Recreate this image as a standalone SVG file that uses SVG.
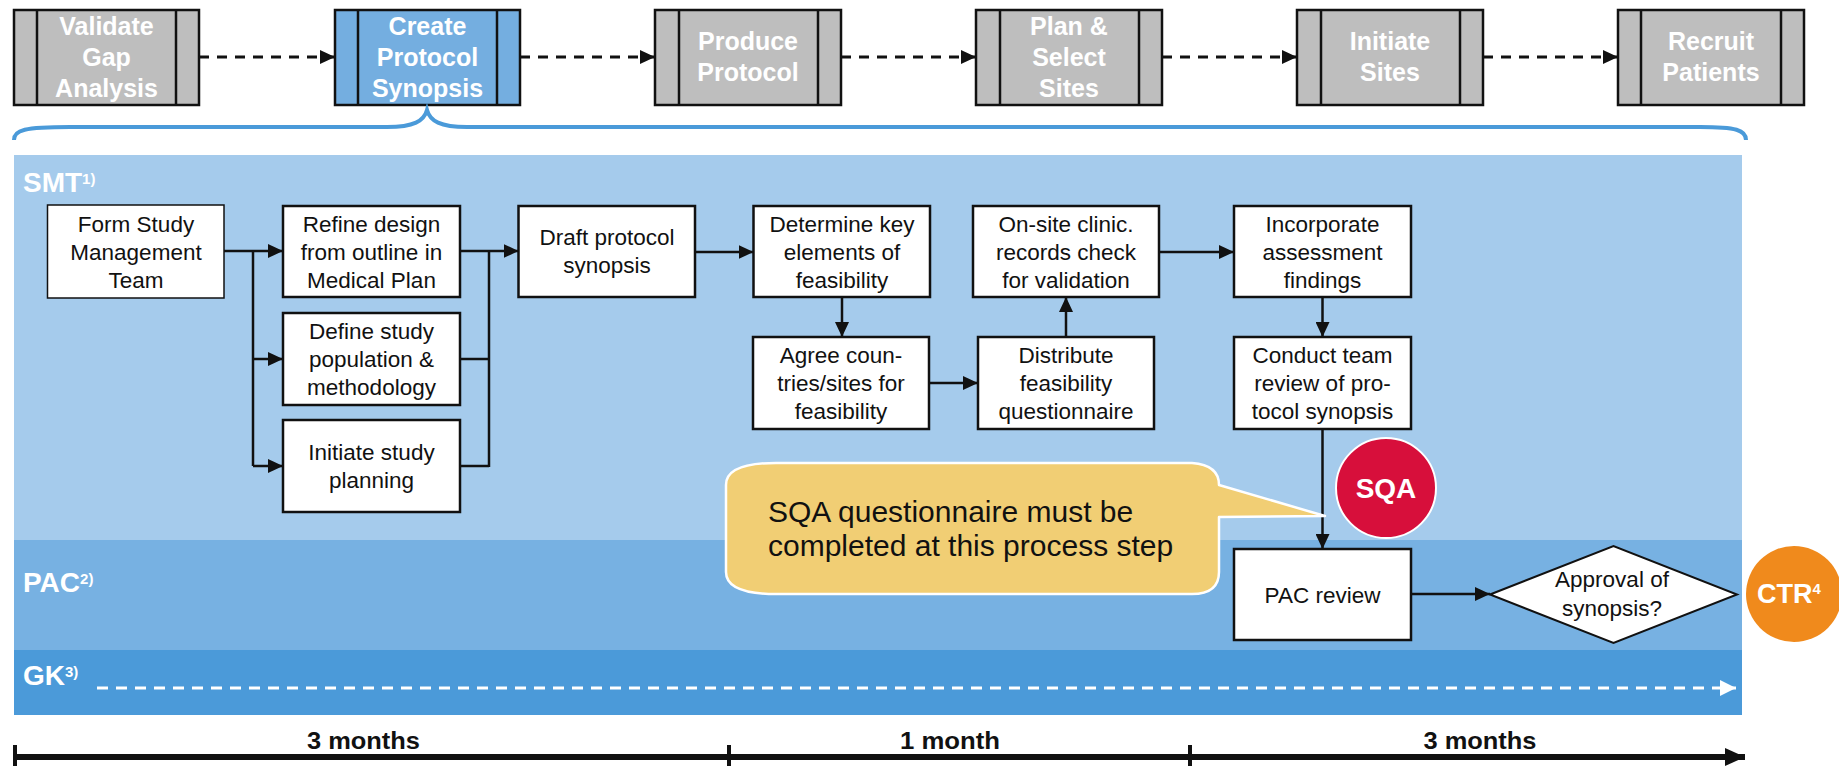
<svg xmlns="http://www.w3.org/2000/svg" width="1839" height="766" viewBox="0 0 1839 766">
  <defs>
    <style>
      .phase { fill: #bebebe; stroke: #111; stroke-width: 2.5; }
      .phase.active { fill: #74aee0; }
      .bar { stroke: #111; stroke-width: 2.5; }
      .phase-t { font-family: "Liberation Sans", Arial, sans-serif; font-weight: bold; font-size: 25px; fill: #ffffff; text-anchor: middle; }
      .box { fill: #ffffff; stroke: #111; stroke-width: 2.5; }
      .box.thin { stroke-width: 1.5; }
      .t { font-family: "Liberation Sans", Arial, sans-serif; font-size: 22.5px; fill: #111; text-anchor: middle; }
      .lane-t { font-family: "Liberation Sans", Arial, sans-serif; font-weight: bold; font-size: 28px; fill: #ffffff; }
      .sup { font-family: "Liberation Sans", Arial, sans-serif; font-weight: bold; font-size: 15px; fill: #ffffff; }
      .link { fill: none; stroke: #111; stroke-width: 2.5; }
      .dash { fill: none; stroke: #111; stroke-width: 3; stroke-dasharray: 10 8; }
      .gk-dash { fill: none; stroke: #ffffff; stroke-width: 3; stroke-dasharray: 11 8; }
      .badge-t { font-family: "Liberation Sans", Arial, sans-serif; font-weight: bold; fill: #ffffff; text-anchor: middle; }
      .call-t { font-family: "Liberation Sans", Arial, sans-serif; font-size: 30px; fill: #111; }
      .time-t { font-family: "Liberation Sans", Arial, sans-serif; font-weight: bold; font-size: 24px; fill: #111; text-anchor: middle; }
    </style>
    <marker id="arrow" markerUnits="userSpaceOnUse" markerWidth="15" markerHeight="14" refX="15" refY="7" orient="auto">
      <path d="M0,0 L15,7 L0,14 z" fill="#111"/>
    </marker>
    <marker id="arrow-white" markerUnits="userSpaceOnUse" markerWidth="16" markerHeight="16" refX="16" refY="8" orient="auto">
      <path d="M0,0 L16,8 L0,16 z" fill="#ffffff"/>
    </marker>
    <marker id="arrow-time" markerUnits="userSpaceOnUse" markerWidth="20" markerHeight="18" refX="20" refY="9" orient="auto">
      <path d="M0,0 L20,9 L0,18 z" fill="#111"/>
    </marker>
  </defs>

  <rect x="0" y="0" width="1839" height="766" fill="#ffffff"/>

  <!-- swimlanes -->
  <g id="lanes">
    <rect x="14" y="155" width="1728" height="385" fill="#a5cbec"/>
    <rect x="14" y="540" width="1728" height="110" fill="#77b1e2"/>
    <rect x="14" y="650" width="1728" height="65" fill="#4b9ad9"/>
    <text class="lane-t" x="23" y="192">SMT<tspan class="sup" dy="-8">1)</tspan></text>
    <text class="lane-t" x="23" y="592">PAC<tspan class="sup" dy="-8">2)</tspan></text>
    <text class="lane-t" x="23" y="685">GK<tspan class="sup" dy="-8">3)</tspan></text>
  </g>

  <!-- phase chain -->
  <g id="phase-validate">
    <rect class="phase" x="14" y="10" width="185" height="95"/>
    <line class="bar" x1="37" y1="10" x2="37" y2="105"/>
    <line class="bar" x1="176" y1="10" x2="176" y2="105"/>
    <text class="phase-t" x="106.5" y="35">Validate</text>
    <text class="phase-t" x="106.5" y="66">Gap</text>
    <text class="phase-t" x="106.5" y="97">Analysis</text>
  </g>
  <g id="phase-create">
    <rect class="phase active" x="335" y="10" width="185" height="95"/>
    <line class="bar" x1="358" y1="10" x2="358" y2="105"/>
    <line class="bar" x1="497" y1="10" x2="497" y2="105"/>
    <text class="phase-t" x="427.5" y="35">Create</text>
    <text class="phase-t" x="427.5" y="66">Protocol</text>
    <text class="phase-t" x="427.5" y="97">Synopsis</text>
  </g>
  <g id="phase-produce">
    <rect class="phase" x="655" y="10" width="186" height="95"/>
    <line class="bar" x1="679" y1="10" x2="679" y2="105"/>
    <line class="bar" x1="818" y1="10" x2="818" y2="105"/>
    <text class="phase-t" x="748" y="50">Produce</text>
    <text class="phase-t" x="748" y="81">Protocol</text>
  </g>
  <g id="phase-sites">
    <rect class="phase" x="976" y="10" width="186" height="95"/>
    <line class="bar" x1="1000" y1="10" x2="1000" y2="105"/>
    <line class="bar" x1="1139" y1="10" x2="1139" y2="105"/>
    <text class="phase-t" x="1069" y="35">Plan &amp;</text>
    <text class="phase-t" x="1069" y="66">Select</text>
    <text class="phase-t" x="1069" y="97">Sites</text>
  </g>
  <g id="phase-initiate">
    <rect class="phase" x="1297" y="10" width="186" height="95"/>
    <line class="bar" x1="1321" y1="10" x2="1321" y2="105"/>
    <line class="bar" x1="1460" y1="10" x2="1460" y2="105"/>
    <text class="phase-t" x="1390" y="50">Initiate</text>
    <text class="phase-t" x="1390" y="81">Sites</text>
  </g>
  <g id="phase-recruit">
    <rect class="phase" x="1618" y="10" width="186" height="95"/>
    <line class="bar" x1="1641" y1="10" x2="1641" y2="105"/>
    <line class="bar" x1="1781" y1="10" x2="1781" y2="105"/>
    <text class="phase-t" x="1711" y="50">Recruit</text>
    <text class="phase-t" x="1711" y="81">Patients</text>
  </g>

  <!-- brace spanning the detailed phase -->
  <path id="brace" d="M14,140 C14,130 24,127 70,127 L387,127 C414,127 424,121 427,110 C430,121 440,127 467,127 L1700,127 C1736,127 1746,130 1746,140" fill="none" stroke="#4a9ad9" stroke-width="4"/>

  <!-- process steps -->
  <g id="form-team">
    <rect class="box thin" x="47.5" y="205" width="176.5" height="93"/>
    <text class="t" x="136" y="232">Form Study</text>
    <text class="t" x="136" y="260">Management</text>
    <text class="t" x="136" y="288">Team</text>
  </g>
  <g id="refine-design">
    <rect class="box" x="283" y="206" width="177" height="91"/>
    <text class="t" x="371.5" y="232">Refine design</text>
    <text class="t" x="371.5" y="260">from outline in</text>
    <text class="t" x="371.5" y="288">Medical Plan</text>
  </g>
  <g id="define-population">
    <rect class="box" x="283" y="313" width="177" height="92"/>
    <text class="t" x="371.5" y="339">Define study</text>
    <text class="t" x="371.5" y="367">population &amp;</text>
    <text class="t" x="371.5" y="395">methodology</text>
  </g>
  <g id="initiate-planning">
    <rect class="box" x="283" y="420" width="177" height="92"/>
    <text class="t" x="371.5" y="460">Initiate study</text>
    <text class="t" x="371.5" y="488">planning</text>
  </g>
  <g id="draft-synopsis">
    <rect class="box" x="518.5" y="206" width="176.5" height="91"/>
    <text class="t" x="607" y="245">Draft protocol</text>
    <text class="t" x="607" y="273">synopsis</text>
  </g>
  <g id="key-elements">
    <rect class="box" x="753.5" y="206" width="176.5" height="91"/>
    <text class="t" x="842" y="232">Determine key</text>
    <text class="t" x="842" y="260">elements of</text>
    <text class="t" x="842" y="288">feasibility</text>
  </g>
  <g id="agree-sites">
    <rect class="box" x="753" y="337" width="176" height="92"/>
    <text class="t" x="841" y="363">Agree coun-</text>
    <text class="t" x="841" y="391">tries/sites for</text>
    <text class="t" x="841" y="419">feasibility</text>
  </g>
  <g id="distribute-questionnaire">
    <rect class="box" x="978" y="337" width="176" height="92"/>
    <text class="t" x="1066" y="363">Distribute</text>
    <text class="t" x="1066" y="391">feasibility</text>
    <text class="t" x="1066" y="419">questionnaire</text>
  </g>
  <g id="onsite-check">
    <rect class="box" x="973" y="206" width="186" height="91"/>
    <text class="t" x="1066" y="232">On-site clinic.</text>
    <text class="t" x="1066" y="260">records check</text>
    <text class="t" x="1066" y="288">for validation</text>
  </g>
  <g id="incorporate-findings">
    <rect class="box" x="1234" y="206" width="177" height="91"/>
    <text class="t" x="1322.5" y="232">Incorporate</text>
    <text class="t" x="1322.5" y="260">assessment</text>
    <text class="t" x="1322.5" y="288">findings</text>
  </g>
  <g id="team-review">
    <rect class="box" x="1234" y="337" width="177" height="92"/>
    <text class="t" x="1322.5" y="363">Conduct team</text>
    <text class="t" x="1322.5" y="391">review of pro-</text>
    <text class="t" x="1322.5" y="419">tocol synopsis</text>
  </g>
  <g id="pac-review">
    <rect class="box" x="1234" y="549" width="177" height="91"/>
    <text class="t" x="1322.5" y="603">PAC review</text>
  </g>
  <g id="approval">
    <path d="M1490,594.5 L1613.5,546 L1737,594.5 L1613.5,643 z" fill="#ffffff" stroke="#111" stroke-width="2"/>
    <text class="t" x="1612" y="587">Approval of</text>
    <text class="t" x="1612" y="616">synopsis?</text>
  </g>

  <!-- connectors -->
  <g id="connectors">
    <path class="dash" d="M199,57 H335" marker-end="url(#arrow)"/>
    <path class="dash" d="M520,57 H655" marker-end="url(#arrow)"/>
    <path class="dash" d="M841,57 H976" marker-end="url(#arrow)"/>
    <path class="dash" d="M1162,57 H1297" marker-end="url(#arrow)"/>
    <path class="dash" d="M1483,57 H1618" marker-end="url(#arrow)"/>

    <path class="link" d="M224,251 H283" marker-end="url(#arrow)"/>
    <path class="link" d="M253,251 V466"/>
    <path class="link" d="M253,359 H283" marker-end="url(#arrow)"/>
    <path class="link" d="M253,466 H283" marker-end="url(#arrow)"/>
    <path class="link" d="M460,251 H489"/>
    <path class="link" d="M460,359 H489"/>
    <path class="link" d="M460,466 H489"/>
    <path class="link" d="M489,251 V467"/>
    <path class="link" d="M489,251 H518.5" marker-end="url(#arrow)"/>
    <path class="link" d="M695,252 H753.5" marker-end="url(#arrow)"/>
    <path class="link" d="M842,297 V337" marker-end="url(#arrow)"/>
    <path class="link" d="M929,383 H978" marker-end="url(#arrow)"/>
    <path class="link" d="M1066,337 V297" marker-end="url(#arrow)"/>
    <path class="link" d="M1159,252 H1234" marker-end="url(#arrow)"/>
    <path class="link" d="M1322.5,297 V337" marker-end="url(#arrow)"/>
    <path class="link" d="M1322.5,429 V549" marker-end="url(#arrow)"/>
    <path class="link" d="M1411,594 H1490" marker-end="url(#arrow)"/>

    <path class="gk-dash" d="M97,688 H1736" marker-end="url(#arrow-white)"/>
  </g>

  <!-- quality checkpoint note -->
  <g id="sqa-note">
    <path d="M776,463 L1192,463 Q1219,465 1219,485 L1325,516 L1219,517 L1219,572 Q1219,594 1192,594 L776,594 Q726,594 726,572 L726,485 Q726,463 776,463 z" fill="#f1ce74" stroke="#ffffff" stroke-width="2.5" stroke-linejoin="round"/>
    <text class="call-t" x="768" y="522">SQA questionnaire must be</text>
    <text class="call-t" x="768" y="556">completed at this process step</text>
  </g>
  <g id="sqa">
    <circle cx="1386" cy="488" r="50" fill="#d70f3b" stroke="#ffffff" stroke-width="2"/>
    <text class="badge-t" x="1386" y="498" font-size="28">SQA</text>
  </g>
  <g id="ctr">
    <circle cx="1794" cy="594" r="48" fill="#f08a1c"/>
    <text class="badge-t" x="1789" y="603" font-size="27">CTR<tspan font-size="15" dy="-9">4</tspan></text>
  </g>

  <!-- timeline -->
  <g id="timeline">
    <path d="M15,757 H1745" fill="none" stroke="#111" stroke-width="6" marker-end="url(#arrow-time)"/>
    <line x1="15" y1="745" x2="15" y2="766" stroke="#111" stroke-width="4"/>
    <line x1="729" y1="745" x2="729" y2="766" stroke="#111" stroke-width="4"/>
    <line x1="1190" y1="745" x2="1190" y2="766" stroke="#111" stroke-width="4"/>
    <text class="time-t" x="363.5" y="749" textLength="113" lengthAdjust="spacingAndGlyphs">3 months</text>
    <text class="time-t" x="950" y="749" textLength="100" lengthAdjust="spacingAndGlyphs">1 month</text>
    <text class="time-t" x="1480" y="749" textLength="113" lengthAdjust="spacingAndGlyphs">3 months</text>
  </g>
</svg>
